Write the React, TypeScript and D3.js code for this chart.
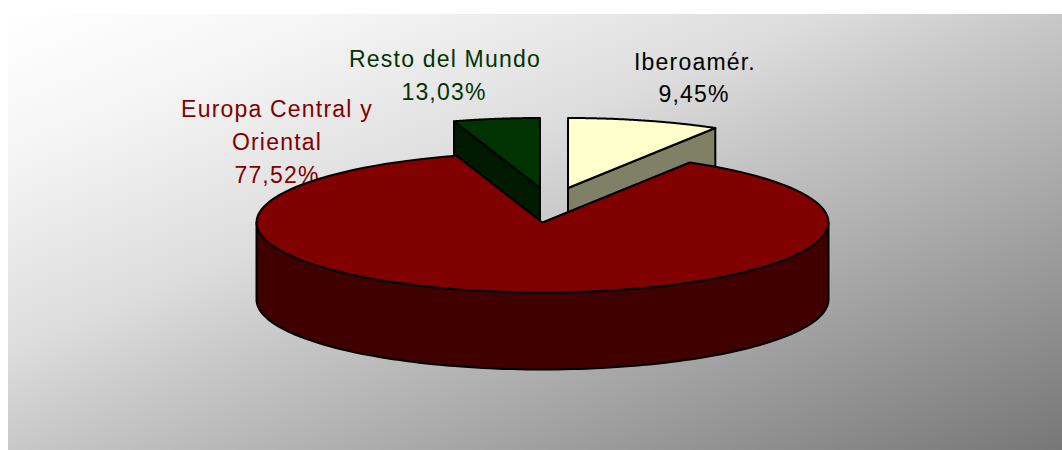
import React from "react";
import * as d3 from "d3";

const categories = ["Europa Central y Oriental", "Iberoamér.", "Resto del Mundo"];
const shares = ["77,52%", "9,45%", "13,03%"];
// Sweep of each slice on the flattened ellipse, in degrees
const iberoSweep = [0, 31];
const restoSweep = [-17.5, 0];
const mainSweep = [31, 342.5];
const frontWall = [90, 270];
const topColors = ["#800000", "#ffffcc", "#003300"];
const wallColors = ["#400000", "#808066", "#001a00"];
const textColors = ["#800000", "#000000", "#003300"];

const W = 1062, H = 450;
const rx = 286, ry = 70, depth = 77;
const mainC = [542.5, 222.5];
const iberoC = [568, 188];
const restoC = [540, 188];

const rim = (c: number[], a0: number, a1: number, dy = 0) => {
  const ang = d3.scaleLinear().domain([0, 1]).range([a0, a1]);
  return d3.range(0, 1.0001, 1 / 120).map((t) => {
    const a = (ang(t) * Math.PI) / 180;
    return [c[0] + rx * Math.sin(a), c[1] - ry * Math.cos(a) + dy] as [number, number];
  });
};
const line = d3.line();
const sector = (c: number[], s: number[]) => line([[c[0], c[1]], ...rim(c, s[0], s[1])])! + "Z";
const flatWall = (c: number[], a: number) => {
  const e = rim(c, a, a, 0)[0];
  return line([[c[0], c[1]], e, [e[0], e[1] + depth], [c[0], c[1] + depth]])! + "Z";
};
const band = (c: number[], s: number[]) =>
  line([...rim(c, s[0], s[1]), ...rim(c, s[1], s[0], depth)])! + "Z";

export default function App() {
  const font = {
    fontFamily: "'Liberation Sans', Arial, sans-serif",
    fontSize: 23,
    letterSpacing: 1.2,
    textAnchor: "middle" as const,
  };
  return (
    <svg width={W} height={H} style={{ position: "absolute", left: 0, top: 0 }}>
      <defs>
        <linearGradient id="bg" x1="0" y1="0" x2="1" y2="1">
          <stop offset="0" stopColor="#ffffff" />
          <stop offset="0.16" stopColor="#f5f5f5" />
          <stop offset="0.39" stopColor="#dcdcdc" />
          <stop offset="0.5" stopColor="#c8c8c8" />
          <stop offset="1" stopColor="#777777" />
        </linearGradient>
      </defs>
      <rect width={W} height={H} fill="#fff" />
      <rect x={8} y={14} width={W - 8} height={H - 14} fill="url(#bg)" />

      <g style={font} fill={textColors[0]}>
        <text x={277} y={117}>Europa Central y</text>
        <text x={277} y={150}>Oriental</text>
        <text x={277} y={183}>{shares[0]}</text>
      </g>
      <g style={font} fill={textColors[2]}>
        <text x={445} y={67}>{categories[2]}</text>
        <text x={444} y={100}>{shares[2]}</text>
      </g>
      <g style={font} fill={textColors[1]}>
        <text x={695} y={70}>{categories[1]}</text>
        <text x={694} y={102}>{shares[1]}</text>
      </g>

      <g stroke="#000" strokeWidth={2} strokeLinejoin="round">
        <path d={flatWall(restoC, restoSweep[0])} fill={wallColors[2]} />
        <path d={sector(restoC, restoSweep)} fill={topColors[2]} />
        <path d={flatWall(iberoC, iberoSweep[1])} fill={wallColors[1]} />
        <path d={sector(iberoC, iberoSweep)} fill={topColors[1]} />
        <path d={band(mainC, frontWall)} fill={wallColors[0]} />
        <path d={sector(mainC, mainSweep)} fill={topColors[0]} />
      </g>
    </svg>
  );
}
